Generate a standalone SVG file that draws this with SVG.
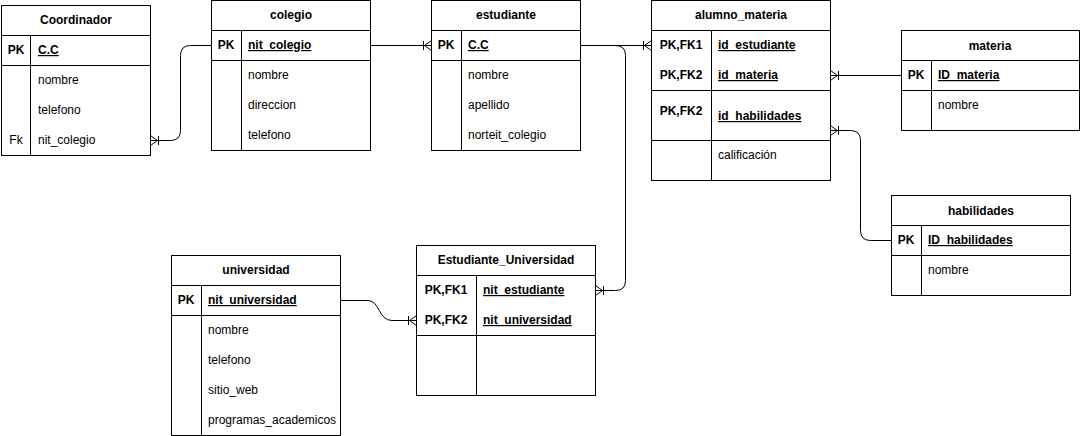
<svg xmlns="http://www.w3.org/2000/svg" width="1081" height="436" viewBox="0 0 1081 436">
<style>
.box{fill:#fff;stroke:#000;stroke-width:1}
.ln{stroke:#000;stroke-width:1;fill:none}
text{font-family:"Liberation Sans",Arial,Helvetica,sans-serif;font-size:12px;fill:#000}
.h{font-weight:bold;text-anchor:middle}
.k{text-anchor:middle}
.kb{text-anchor:middle;font-weight:bold}
.pk{font-weight:bold;text-decoration:underline}
.con{stroke:#000;stroke-width:1;fill:none}
</style>
<defs>
<marker id="many" markerUnits="userSpaceOnUse" markerWidth="20" markerHeight="20" viewBox="-10 -10 20 20" refX="0" refY="0" orient="auto" overflow="visible">
<path d="M0,-5 L-7,0 L0,5 M-8,-4.5 L-8,4.5 M-8,0 L0,0" fill="none" stroke="#000" stroke-width="1"/>
</marker>
</defs>
<rect width="1081" height="436" fill="#fff"/>

<g id="Coordinador">
<rect class="box" x="1.5" y="5.5" width="149" height="150"/>
<path class="ln" d="M1.5,35.5 H150.5 M1.5,65.5 H150.5 M30.5,35.5 V155.5"/>
<text class="h" x="76" y="24">Coordinador</text>
<text class="kb" x="16" y="54">PK</text>
<text class="pk" x="38" y="54">C.C</text>
<text x="38" y="84">nombre</text>
<text x="38" y="114">telefono</text>
<text class="k" x="16" y="144">Fk</text>
<text x="38" y="144">nit_colegio</text>
</g>

<g id="colegio">
<rect class="box" x="211.5" y="0.5" width="159" height="150"/>
<path class="ln" d="M211.5,30.5 H370.5 M211.5,60.5 H370.5 M241.5,30.5 V150.5"/>
<text class="h" x="291" y="19">colegio</text>
<text class="kb" x="226" y="49">PK</text>
<text class="pk" x="248" y="49">nit_colegio</text>
<text x="248" y="79">nombre</text>
<text x="248" y="109">direccion</text>
<text x="248" y="139">telefono</text>
</g>

<g id="estudiante">
<rect class="box" x="431.5" y="0.5" width="149" height="150"/>
<path class="ln" d="M431.5,30.5 H580.5 M431.5,60.5 H580.5 M461.5,30.5 V150.5"/>
<text class="h" x="506" y="19">estudiante</text>
<text class="kb" x="446" y="49">PK</text>
<text class="pk" x="468" y="49">C.C</text>
<text x="468" y="79">nombre</text>
<text x="468" y="109">apellido</text>
<text x="468" y="139">norteit_colegio</text>
</g>

<g id="alumno_materia">
<rect class="box" x="651.5" y="0.5" width="179" height="180"/>
<path class="ln" d="M651.5,30.5 H830.5 M651.5,90.5 H830.5 M651.5,140.5 H830.5 M711.5,30.5 V180.5"/>
<text class="h" x="741" y="19">alumno_materia</text>
<text class="kb" x="681" y="49">PK,FK1</text>
<text class="pk" x="718" y="49">id_estudiante</text>
<text class="kb" x="681" y="79">PK,FK2</text>
<text class="pk" x="718" y="79">id_materia</text>
<text class="kb" x="681" y="115">PK,FK2</text>
<text class="pk" x="718" y="120">id_habilidades</text>
<text x="718" y="159">calificación</text>
</g>

<g id="materia">
<rect class="box" x="901.5" y="30.5" width="178" height="100"/>
<path class="ln" d="M901.5,60.5 H1079.5 M901.5,90.5 H1079.5 M931.5,60.5 V130.5"/>
<text class="h" x="990" y="50">materia</text>
<text class="kb" x="916" y="79">PK</text>
<text class="pk" x="938" y="79">ID_materia</text>
<text x="938" y="109">nombre</text>
</g>

<g id="habilidades">
<rect class="box" x="891.5" y="195.5" width="179" height="100"/>
<path class="ln" d="M891.5,225.5 H1070.5 M891.5,255.5 H1070.5 M921.5,225.5 V295.5"/>
<text class="h" x="981" y="215">habilidades</text>
<text class="kb" x="906" y="244">PK</text>
<text class="pk" x="928" y="244">ID_habilidades</text>
<text x="928" y="274">nombre</text>
</g>

<g id="universidad">
<rect class="box" x="171.5" y="255.5" width="169" height="180"/>
<path class="ln" d="M171.5,285.5 H340.5 M171.5,315.5 H340.5 M201.5,285.5 V435.5"/>
<text class="h" x="256" y="274">universidad</text>
<text class="kb" x="186" y="304">PK</text>
<text class="pk" x="208" y="304">nit_universidad</text>
<text x="208" y="334">nombre</text>
<text x="208" y="364">telefono</text>
<text x="208" y="394">sitio_web</text>
<text x="208" y="424">programas_academicos</text>
</g>

<g id="Estudiante_Universidad">
<rect class="box" x="416.5" y="245.5" width="179" height="150"/>
<path class="ln" d="M416.5,275.5 H595.5 M416.5,335.5 H595.5 M476.5,275.5 V395.5"/>
<text class="h" x="506" y="264">Estudiante_Universidad</text>
<text class="kb" x="446" y="294">PK,FK1</text>
<text class="pk" x="483" y="294">nit_estudiante</text>
<text class="kb" x="446" y="324">PK,FK2</text>
<text class="pk" x="483" y="324">nit_universidad</text>
</g>

<g id="connectors">
<path class="con" marker-end="url(#many)" d="M211.5,45.5 H190.5 Q180.5,45.5 180.5,55.5 V130.5 Q180.5,140.5 170.5,140.5 H150.5"/>
<path class="con" marker-end="url(#many)" d="M370.5,45.5 H431.5"/>
<path class="con" marker-end="url(#many)" d="M580.5,45.5 H651.5"/>
<path class="con" marker-end="url(#many)" d="M580.5,45.5 H615.5 Q625.5,45.5 625.5,55.5 V280.5 Q625.5,290.5 615.5,290.5 H595.5"/>
<path class="con" marker-end="url(#many)" d="M901.5,75.5 H830.5"/>
<path class="con" marker-end="url(#many)" d="M891.5,240.5 H870.5 Q860.5,240.5 860.5,230.5 V140.5 Q860.5,130.5 850.5,130.5 H830.5"/>
<path class="con" marker-end="url(#many)" d="M340.5,300.5 H368 C380,300.5 378,320.5 392,320.5 H416.5"/>
</g>
</svg>
